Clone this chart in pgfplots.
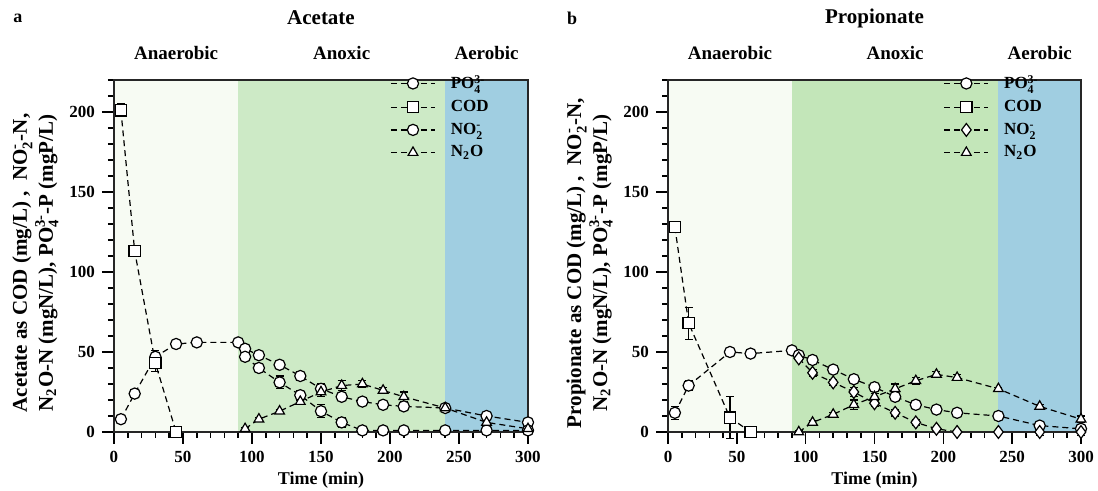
\documentclass[border=0pt]{standalone}
\usepackage{fontspec}
\setmainfont{Liberation Serif}
\usepackage{amsmath}
\usepackage{pgfplots}
\pgfplotsset{compat=1.18}

\definecolor{anaer}{RGB}{247,251,243}
\definecolor{anoxA}{RGB}{205,234,198}
\definecolor{anoxB}{RGB}{195,230,185}
\definecolor{aer}{RGB}{160,206,225}

% subscript + superscript stacked, in text font
\newcommand\sbsp[2]{\ensuremath{_{\text{#1}}^{\text{#2}}}}

\tikzset{region/.style={font=\fontsize{9.5}{10}\selectfont\bfseries, anchor=center}}

\pgfplotsset{
  panel/.style={
    scale only axis, height=176pt,
    xmin=0, xmax=300, ymin=0, ymax=220,
    xtick={0,50,...,300}, ytick={0,50,...,200},
    minor xtick={10,20,...,290}, minor ytick={10,20,...,220},
    tick align=outside, tick pos=left,
    major tick length=6pt, minor tick length=3pt,
    axis line style={line width=1pt, black!85},
    every tick/.style={line width=0.8pt, black},
    tick label style={font=\fontsize{8.5}{9}\selectfont\bfseries},
    /pgf/number format/assume math mode=true,
    axis on top, clip=false,
    xlabel={Time (min)},
    xlabel style={font=\fontsize{9}{10}\selectfont\bfseries,
      at={(axis description cs:0.5,-0.136)}, anchor=center},
    ylabel style={font=\fontsize{10.5}{13}\selectfont\bfseries, align=center,
      anchor=center},
    legend style={draw=none, fill=none, inner sep=0pt, anchor=north west,
      at={(axis cs:200,224)}, font=\fontsize{8.5}{9}\selectfont\bfseries,
      row sep=3pt, nodes={inner sep=0.6pt},
      /tikz/column 1/.style={column sep=7pt}},
    legend cell align=left,
    legend image code/.code={
      \draw[mark repeat=2, mark phase=2, #1]
        plot coordinates {(0pt,0pt) (11pt,0pt) (22pt,0pt)};},
  },
  ser/.style={black, line width=0.6pt, dash pattern=on 3pt off 2pt,
    mark options={solid, fill=white, line width=0.6pt}, mark size=2.8pt,
    error bars/y dir=both, error bars/y explicit,
    error bars/error bar style={solid, line width=0.6pt},
    error bars/error mark options={rotate=90, mark size=2pt, line width=0.6pt}},
}

\begin{document}
\begin{tikzpicture}
\useasboundingbox (0,0) rectangle (549pt,245.5pt);

% ---------------- a: Acetate ----------------
\begin{axis}[panel, width=207pt, at={(57pt,29.5pt)}, anchor=south west,
  ylabel={Acetate as COD (mg/L) ,\ \ NO\sbsp{2}{-}-N,\\N\textsubscript{2}O-N (mgN/L), PO\sbsp{4}{3-}-P (mgP/L)},
  ylabel style={at={(axis description cs:-0.19,0.48)}}]
  \fill[anaer] (axis cs:0,0) rectangle (axis cs:90,220);
  \fill[anoxA] (axis cs:90,0) rectangle (axis cs:240,220);
  \fill[aer] (axis cs:240,0) rectangle (axis cs:300,220);

  \addplot[ser, mark=*] coordinates {
    (5,8) +- (0,1) (15,24) +- (0,1) (30,47) +- (0,4) (45,55) +- (0,1)
    (60,56) +- (0,1) (90,56) +- (0,1) (95,52) +- (0,1) (105,48) +- (0,2)
    (120,42) +- (0,2) (135,35) +- (0,3) (150,27) +- (0,3) (165,22) +- (0,2)
    (180,19) +- (0,2) (195,17) +- (0,1) (210,16) +- (0,2) (240,15) +- (0,1)
    (270,10) +- (0,2) (300,6) +- (0,2)};
  \addlegendentry{PO\sbsp{4}{3-}}

  \addplot[ser, mark=square*] coordinates {
    (5,201) +- (0,4) (15,113) +- (0,2) (30,43) +- (0,5) (45,0) +- (0,1)};
  \addlegendentry{COD}

  \addplot[ser, mark=*] coordinates {
    (95,47) +- (0,2) (105,40) +- (0,3) (120,31) +- (0,4) (135,23) +- (0,3)
    (150,13) +- (0,4) (165,6) +- (0,3) (180,1) +- (0,1) (195,1) +- (0,1)
    (210,1) +- (0,1) (240,1) +- (0,1) (270,1) +- (0,2) (300,1) +- (0,2)};
  \addlegendentry{NO\sbsp{2}{-}}

  \addplot[ser, mark=triangle*] coordinates {
    (95,2) +- (0,1) (105,8) +- (0,1) (120,13) +- (0,1) (135,19) +- (0,2)
    (150,25) +- (0,3) (165,29) +- (0,3) (180,30) +- (0,2) (195,26) +- (0,2)
    (210,22) +- (0,3) (240,15) +- (0,1) (270,6) +- (0,2) (300,2) +- (0,1)};
  \addlegendentry{N\textsubscript{2}O}

  \node[region] at (axis cs:45,220) [yshift=13.5pt] {Anaerobic};
  \node[region] at (axis cs:165,220) [yshift=13.5pt] {Anoxic};
  \node[region] at (axis cs:270,220) [yshift=13.5pt] {Aerobic};
  \node[font=\fontsize{10.5}{11}\selectfont\bfseries, anchor=center]
    at (axis description cs:0.5,1.176) {Acetate};
  \node[font=\fontsize{9}{10}\selectfont\bfseries, anchor=center]
    at (axis description cs:-0.232,1.176) {a};
\end{axis}

% ---------------- b: Propionate ----------------
\begin{axis}[panel, width=206.5pt, at={(334pt,29.5pt)}, anchor=south west,
  ylabel={Propionate as COD (mg/L) ,\ \ NO\sbsp{2}{-}-N,\\N\textsubscript{2}O-N (mgN/L), PO\sbsp{4}{3-}-P (mgP/L)},
  ylabel style={at={(axis description cs:-0.19,0.48)}}]
  \fill[anaer] (axis cs:0,0) rectangle (axis cs:90,220);
  \fill[anoxB] (axis cs:90,0) rectangle (axis cs:240,220);
  \fill[aer] (axis cs:240,0) rectangle (axis cs:300,220);

  \addplot[ser, mark=*] coordinates {
    (5,12) +- (0,4) (15,29) +- (0,3) (45,50) +- (0,2) (60,49) +- (0,2)
    (90,51) +- (0,1) (95,48) +- (0,1) (105,45) +- (0,1) (120,39) +- (0,2)
    (135,33) +- (0,2) (150,28) +- (0,2) (165,22) +- (0,2) (180,17) +- (0,2)
    (195,14) +- (0,1) (210,12) +- (0,1) (240,10) +- (0,1) (270,4) +- (0,2)
    (300,2) +- (0,2)};
  \addlegendentry{PO\sbsp{4}{3-}}

  \addplot[ser, mark=square*] coordinates {
    (5,128) +- (0,3) (15,68) +- (0,10) (45,9) +- (0,13) (60,0) +- (0,1)};
  \addlegendentry{COD}

  \addplot[ser, mark=diamond*, mark size=3.2pt] coordinates {
    (95,46) +- (0,1) (105,37) +- (0,2) (120,31) +- (0,2) (135,25) +- (0,3)
    (150,18) +- (0,2) (165,12) +- (0,2) (180,6) +- (0,2) (195,2) +- (0,1)
    (210,0) +- (0,1) (240,0) +- (0,1) (270,0) +- (0,2) (300,0) +- (0,2)};
  \addlegendentry{NO\sbsp{2}{-}}

  \addplot[ser, mark=triangle*] coordinates {
    (95,0) +- (0,1) (105,6) +- (0,1) (120,11) +- (0,1) (135,17) +- (0,3)
    (150,22) +- (0,2) (165,27) +- (0,3) (180,32) +- (0,2) (195,36) +- (0,2)
    (210,34) +- (0,2) (240,27) +- (0,1) (270,16) +- (0,1) (300,8) +- (0,2)};
  \addlegendentry{N\textsubscript{2}O}

  \node[region] at (axis cs:45,220) [yshift=13.5pt] {Anaerobic};
  \node[region] at (axis cs:165,220) [yshift=13.5pt] {Anoxic};
  \node[region] at (axis cs:270,220) [yshift=13.5pt] {Aerobic};
  \node[font=\fontsize{10.5}{11}\selectfont\bfseries, anchor=center]
    at (axis description cs:0.5,1.176) {Propionate};
  \node[font=\fontsize{9}{10}\selectfont\bfseries, anchor=center]
    at (axis description cs:-0.232,1.176) {b};
\end{axis}
\end{tikzpicture}
\end{document}
